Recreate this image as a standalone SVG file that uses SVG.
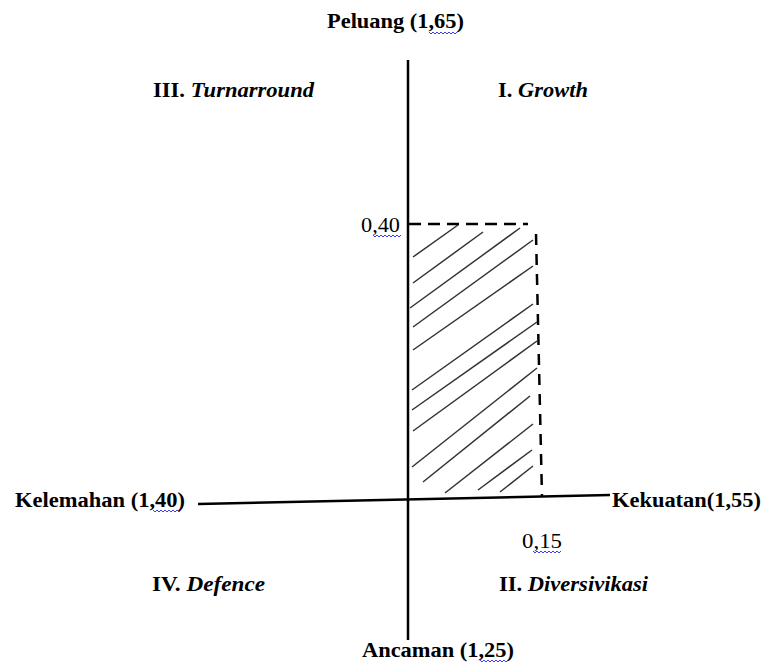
<svg xmlns="http://www.w3.org/2000/svg" width="767" height="663" viewBox="0 0 767 663">
<style>
.t{font-family:"Liberation Serif","Times New Roman",serif;font-size:20px;fill:#000}
.b{font-weight:bold}
.i{font-style:italic}
.axis{stroke:#000;stroke-width:2.5;fill:none}
.dash{stroke:#000;stroke-width:2.5;fill:none}
.hatch{stroke:#333;stroke-width:1.5;fill:none}
.wavy{stroke:#3b3bf0;stroke-width:1;fill:none}
</style>
<rect width="767" height="663" fill="#fff"/>
<g id="connectors">
<line class="axis" x1="408" y1="60" x2="408" y2="640"/>
<line class="axis" x1="198" y1="504" x2="610" y2="495"/>
<line class="dash" x1="409" y1="224" x2="528" y2="224" stroke-dasharray="12 7"/>
<line class="dash" x1="536" y1="234" x2="542" y2="497" stroke-dasharray="11 9"/>
</g>
<g id="hatching">
<line class="hatch" x1="413" y1="257" x2="458" y2="225"/>
<line class="hatch" x1="413" y1="283" x2="483" y2="232"/>
<line class="hatch" x1="410" y1="308" x2="520" y2="228"/>
<line class="hatch" x1="413" y1="327" x2="533" y2="240"/>
<line class="hatch" x1="413" y1="350" x2="533" y2="266"/>
<line class="hatch" x1="412" y1="390" x2="533" y2="304"/>
<line class="hatch" x1="412" y1="410" x2="537" y2="322"/>
<line class="hatch" x1="413" y1="431" x2="537" y2="341"/>
<line class="hatch" x1="412" y1="467" x2="537" y2="368"/>
<line class="hatch" x1="423" y1="482" x2="530" y2="396"/>
<line class="hatch" x1="445" y1="493" x2="533" y2="424"/>
<line class="hatch" x1="478" y1="490" x2="532" y2="450"/>
<line class="hatch" x1="500" y1="492" x2="533" y2="466"/>
</g>
<g id="peluang">
<text class="t b" x="327" y="28" textLength="137" lengthAdjust="spacingAndGlyphs">Peluang (1,65)</text>
<path class="wavy" d="M429 32 l2 2 l2 -2 l2 2 l2 -2 l2 2 l2 -2 l2 2 l2 -2 l2 2 l2 -2 l2 2 l2 -2 l2 2 l2 -2"/>
</g>
<g id="turnarround">
<text class="t b" x="153" y="97" textLength="161" lengthAdjust="spacingAndGlyphs">III. <tspan class="i">Turnarround</tspan></text>
</g>
<g id="growth">
<text class="t b" x="498" y="97" textLength="90" lengthAdjust="spacingAndGlyphs">I. <tspan class="i">Growth</tspan></text>
</g>
<g id="val040">
<text class="t" x="361" y="232" textLength="39" lengthAdjust="spacingAndGlyphs">0,40</text>
<path class="wavy" d="M373 235 l2 2 l2 -2 l2 2 l2 -2 l2 2 l2 -2 l2 2 l2 -2 l2 2 l2 -2 l2 2 l2 -2 l2 2 l2 -2"/>
</g>
<g id="kelemahan">
<text class="t b" x="15" y="507" textLength="170" lengthAdjust="spacingAndGlyphs">Kelemahan (1,40)</text>
<path class="wavy" d="M153 510 l2 2 l2 -2 l2 2 l2 -2 l2 2 l2 -2 l2 2 l2 -2 l2 2 l2 -2 l2 2 l2 -2 l2 2 l2 -2"/>
</g>
<g id="kekuatan">
<text class="t b" x="612" y="507" textLength="149" lengthAdjust="spacingAndGlyphs">Kekuatan(1,55)</text>
</g>
<g id="val015">
<text class="t" x="522" y="548" textLength="40" lengthAdjust="spacingAndGlyphs">0,15</text>
<path class="wavy" d="M533 551 l2 2 l2 -2 l2 2 l2 -2 l2 2 l2 -2 l2 2 l2 -2 l2 2 l2 -2 l2 2 l2 -2 l2 2 l2 -2"/>
</g>
<g id="defence">
<text class="t b" x="152" y="591" textLength="113" lengthAdjust="spacingAndGlyphs">IV. <tspan class="i">Defence</tspan></text>
</g>
<g id="diversivikasi">
<text class="t b" x="499" y="591" textLength="149" lengthAdjust="spacingAndGlyphs">II. <tspan class="i">Diversivikasi</tspan></text>
</g>
<g id="ancaman">
<text class="t b" x="362" y="657" textLength="152" lengthAdjust="spacingAndGlyphs">Ancaman (1,25)</text>
<path class="wavy" d="M480 660 l2 2 l2 -2 l2 2 l2 -2 l2 2 l2 -2 l2 2 l2 -2 l2 2 l2 -2 l2 2 l2 -2 l2 2 l2 -2"/>
</g>
</svg>
